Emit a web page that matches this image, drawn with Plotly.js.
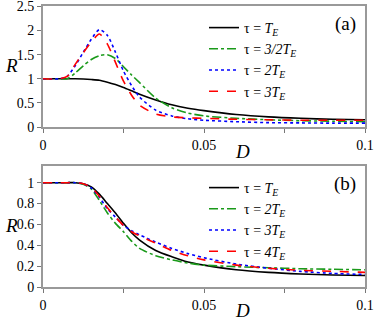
<!DOCTYPE html>
<html>
<head>
<meta charset="utf-8">
<script src="https://cdn.plot.ly/plotly-3.0.1.min.js"></script>
</head>
<body style="margin:0">
<div id="chart" style="width:374px;height:320px"></div>
<script>
// shared D grid
const D = [0, 0.005, 0.0075, 0.01, 0.0125, 0.015, 0.0175, 0.02, 0.0225, 0.025, 0.0275,
           0.03, 0.035, 0.04, 0.045, 0.05, 0.06, 0.07, 0.08, 0.09, 0.1];

// panel (a)
const aTE   = [1, 1, 1, 1, 0.995, 0.985, 0.97, 0.93, 0.88, 0.82, 0.75, 0.68, 0.56, 0.46, 0.39, 0.34, 0.26, 0.21, 0.18, 0.16, 0.15];
const a32TE = [1, 1, 1, 1.12, 1.27, 1.4, 1.48, 1.5, 1.42, 1.25, 1.08, 0.92, 0.6, 0.4, 0.29, 0.23, 0.18, 0.15, 0.13, 0.12, 0.11];
const a2TE  = [1, 1, 1.05, 1.27, 1.55, 1.82, 2.02, 1.9, 1.55, 1.16, 0.86, 0.62, 0.35, 0.23, 0.17, 0.14, 0.11, 0.09, 0.085, 0.08, 0.08];
const a3TE  = [1, 1, 1.05, 1.3, 1.54, 1.76, 1.93, 1.72, 1.34, 0.95, 0.66, 0.45, 0.27, 0.21, 0.19, 0.18, 0.16, 0.15, 0.14, 0.14, 0.14];

// panel (b)
const bTE  = [1, 1, 1, 1, 0.99, 0.96, 0.89, 0.8, 0.71, 0.61, 0.52, 0.45, 0.35, 0.29, 0.24, 0.21, 0.165, 0.14, 0.125, 0.115, 0.11];
const b2TE = [1, 1, 1, 1, 0.985, 0.94, 0.83, 0.71, 0.61, 0.53, 0.44, 0.37, 0.3, 0.26, 0.23, 0.21, 0.195, 0.185, 0.175, 0.17, 0.165];
const b3TE = [1, 1, 1, 1, 0.99, 0.95, 0.86, 0.75, 0.67, 0.59, 0.54, 0.5, 0.43, 0.37, 0.32, 0.28, 0.22, 0.18, 0.15, 0.13, 0.12];
const b4TE = [1, 1, 1, 1, 0.99, 0.955, 0.87, 0.76, 0.67, 0.59, 0.53, 0.49, 0.42, 0.35, 0.3, 0.26, 0.21, 0.18, 0.16, 0.15, 0.14];

const aNames = ["τ = <i>T</i><sub><i>E</i></sub>", "τ = <i>3/2T</i><sub><i>E</i></sub>",
                "τ = <i>2T</i><sub><i>E</i></sub>", "τ = <i>3T</i><sub><i>E</i></sub>"];
const bNames = ["τ = <i>T</i><sub><i>E</i></sub>", "τ = <i>2T</i><sub><i>E</i></sub>",
                "τ = <i>3T</i><sub><i>E</i></sub>", "τ = <i>4T</i><sub><i>E</i></sub>"];

const xTicks = [0, 0.025, 0.05, 0.075, 0.1];
const xTickText = ["0", "", "0.05", "", "0.1"];
const yTicksA = [0, 0.5, 1, 1.5, 2, 2.5];
const yTicksB = [0, 0.2, 0.4, 0.6, 0.8, 1];

const colors = ["#000000", "#1a9a1a", "#0000ff", "#ff0000"];
const dashes = ["solid", "dashdot", "dot", "dash"];

function mk(y, i, name, ax, leg) {
  return {
    x: D, y: y, name: name, type: "scatter", mode: "lines",
    xaxis: "x" + ax, yaxis: "y" + ax, legend: leg,
    line: {color: colors[i], dash: dashes[i], width: 1.6, shape: "spline", smoothing: 0.7}
  };
}

const traces = [
  mk(aTE, 0, aNames[0], "", "legend"),
  mk(a32TE, 1, aNames[1], "", "legend"),
  mk(a2TE, 2, aNames[2], "", "legend"),
  mk(a3TE, 3, aNames[3], "", "legend"),
  mk(bTE, 0, bNames[0], "2", "legend2"),
  mk(b2TE, 1, bNames[1], "2", "legend2"),
  mk(b3TE, 2, bNames[2], "2", "legend2"),
  mk(b4TE, 3, bNames[3], "2", "legend2")
];

// plot area: 43..365 px wide, 5..315 px tall
function px(x) { return (x - 43) / 322; }
function py(y) { return 1 - (y - 5) / 310; }

function fnt(size) { return {family: "Times New Roman", size: size, color: "#000"}; }

function axis(extra) {
  return Object.assign({
    showline: true, mirror: true, linecolor: "#999", linewidth: 2,
    ticks: "outside", ticklen: 4, tickcolor: "#777", tickwidth: 1,
    showgrid: false, zeroline: false, tickfont: fnt(14), ticklabeloverflow: "allow"
  }, extra);
}

const labels = [
  {text: "(a)", x: 345, y: 24},
  {text: "(b)", x: 345, y: 184},
  {text: "<i>R</i>", x: 11, y: 65},
  {text: "<i>R</i>", x: 11, y: 225},
  {text: "<i>D</i>", x: 242, y: 152},
  {text: "<i>D</i>", x: 242, y: 310}
];

const layout = {
  width: 374, height: 320,
  margin: {l: 43, r: 9, t: 5, b: 5},
  paper_bgcolor: "#fff", plot_bgcolor: "#fff",
  font: fnt(14),
  xaxis: axis({domain: [0, 1], anchor: "y", range: [0, 0.1], tickvals: xTicks, ticktext: xTickText}),
  yaxis: axis({domain: [py(127), py(6)], anchor: "x", range: [0, 2.51], tickvals: yTicksA}),
  xaxis2: axis({domain: [0, 1], anchor: "y2", range: [0, 0.1], tickvals: xTicks, ticktext: xTickText}),
  yaxis2: axis({domain: [py(287), py(166)], anchor: "x2", range: [0, 1.16], tickvals: yTicksB}),
  legend: {x: px(204), y: py(12), xref: "paper", yref: "paper", xanchor: "left", yanchor: "top",
    bgcolor: "rgba(0,0,0,0)", font: fnt(14)},
  legend2: {x: px(204), y: py(172), xref: "paper", yref: "paper", xanchor: "left", yanchor: "top",
    bgcolor: "rgba(0,0,0,0)", font: fnt(14)},
  annotations: labels.map(function(a) {
    return {text: a.text, xref: "paper", yref: "paper", showarrow: false,
      x: px(a.x), y: py(a.y), xanchor: "center", yanchor: "middle", font: fnt(19)};
  }),
  showlegend: true
};

Plotly.newPlot("chart", traces, layout, {displayModeBar: false, staticPlot: true});
</script>
</body>
</html>
